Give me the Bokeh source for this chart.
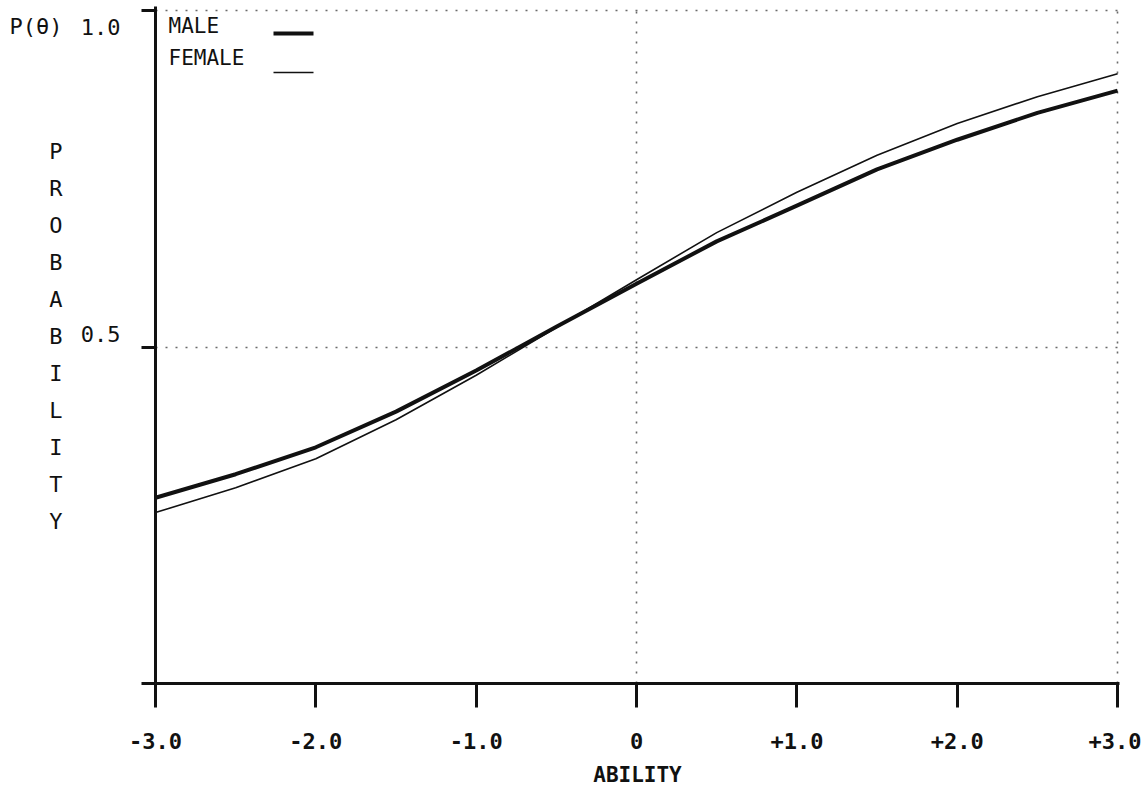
from bokeh.plotting import figure
from bokeh.models import FixedTicker, Label, Arrow, Range1d, LinearAxis
from bokeh.embed import file_html
from bokeh.resources import INLINE

# ---- data ----
ability = [-3.0, -2.5, -2.0, -1.5, -1.0, -0.5, 0.0, 0.5, 1.0, 1.5, 2.0, 2.5, 3.0]
male = [0.276, 0.311, 0.351, 0.404, 0.465, 0.530, 0.594, 0.657, 0.710, 0.764, 0.808, 0.848, 0.881]
female = [0.254, 0.291, 0.334, 0.392, 0.458, 0.529, 0.600, 0.670, 0.730, 0.785, 0.832, 0.872, 0.906]

x_ticks = [-3, -2, -1, 0, 1, 2, 3]
x_tick_labels = ["-3.0", "-2.0", "-1.0", "0", "+1.0", "+2.0", "+3.0"]
y_ticks = [0, 0.5, 1]
y_tick_labels = ["0.5", "1.0"]
y_symbol = "P(θ)"
x_grid = [0, 3]
y_grid = [0.5, 1]
y_title = "PROBABILITY"
x_title = "ABILITY"
series_names = ["MALE", "FEMALE"]

FONT = "DejaVu Sans Mono"
INK = "#111111"

# layout (pixels)
FRAME_BOTTOM = 683          # page y of the frame bottom
FRAME_H = 677
p = figure(width=1141, height=794, x_range=Range1d(-3, 3.012), y_range=Range1d(0, 1.006),
           output_backend="svg", toolbar_location=None,
           min_border_left=155, min_border_right=22, min_border_top=6,
           min_border_bottom=794 - FRAME_BOTTOM)
p.outline_line_color = None
p.background_fill_color = "white"
p.border_fill_color = "white"

# curves
p.line(ability, male, line_width=4, line_color=INK, line_join="round")
p.line(ability, female, line_width=1.6, line_color=INK, line_join="round")

# x axis
xa = p.xaxis[0]
xa.ticker = FixedTicker(ticks=x_ticks)
xa.major_label_overrides = dict(zip(x_ticks, x_tick_labels))
xa.axis_line_width = 3
xa.axis_line_color = INK
xa.major_tick_line_width = 3
xa.major_tick_line_color = INK
xa.major_tick_in = 0
xa.major_tick_out = 24
xa.minor_tick_line_color = None
xa.major_label_standoff = 25
xa.major_label_text_font = FONT
xa.major_label_text_font_style = "bold"
xa.major_label_text_font_size = "22px"
xa.major_label_text_color = INK
xa.axis_label = x_title
xa.axis_label_text_font = FONT
xa.axis_label_text_font_style = "bold"
xa.axis_label_text_font_size = "21px"
xa.axis_label_text_color = INK
xa.axis_label_standoff = 11

# y axis: line and ticks
ya = p.yaxis[0]
ya.ticker = FixedTicker(ticks=y_ticks)
ya.major_label_overrides = {t: "" for t in y_ticks}
ya.axis_line_width = 3
ya.axis_line_color = INK
ya.major_tick_line_width = 3
ya.major_tick_line_color = INK
ya.major_tick_in = 0
ya.major_tick_out = 14
ya.minor_tick_line_color = None
ya.major_label_standoff = 0

# text columns left of the y axis, positioned in pixel rows
p.extra_y_ranges = {"px": Range1d(0, FRAME_H)}

def text_axis(rows, labels, standoff, size):
    ax = LinearAxis(y_range_name="px", ticker=FixedTicker(ticks=rows),
                    major_label_overrides=dict(zip(rows, labels)))
    ax.axis_line_color = None
    ax.major_tick_line_color = None
    ax.minor_tick_line_color = None
    ax.major_tick_in = 0
    ax.major_tick_out = 0
    ax.major_label_standoff = standoff
    ax.major_label_text_font = FONT
    ax.major_label_text_font_size = size
    ax.major_label_text_color = INK
    return ax

num_rows = [FRAME_BOTTOM - 333, FRAME_BOTTOM - 26]
p.add_layout(text_axis(num_rows, y_tick_labels, 21, "22px"), "left")

letter_rows = [FRAME_BOTTOM - (151 + 37 * i) for i in range(len(y_title))]
p.add_layout(text_axis(letter_rows + [FRAME_BOTTOM - 26], list(y_title) + [y_symbol], 15, "22px"), "left")

# dotted grid
p.xgrid.ticker = FixedTicker(ticks=x_grid)
p.ygrid.ticker = FixedTicker(ticks=y_grid)
for g in (p.xgrid, p.ygrid):
    g.grid_line_color = "#6a6a6a"
    g.grid_line_width = 1.6
    g.grid_line_dash = "2 8"

# legend (text then sample line)
legend_rows = [(series_names[0], 658, 650, 4), (series_names[1], 626, 611, 1.6)]
for name, ty, ly, lw in legend_rows:
    p.add_layout(Label(x=13, y=ty, x_units="screen", y_units="screen", text=name,
                       text_baseline="middle", text_font=FONT, text_font_size="21px",
                       text_color=INK))
    p.add_layout(Arrow(x_start=118, y_start=ly, x_end=158, y_end=ly,
                       start_units="screen", end_units="screen", start=None, end=None,
                       line_width=lw, line_color=INK))

open("out.html", "w").write(file_html(p, INLINE))
